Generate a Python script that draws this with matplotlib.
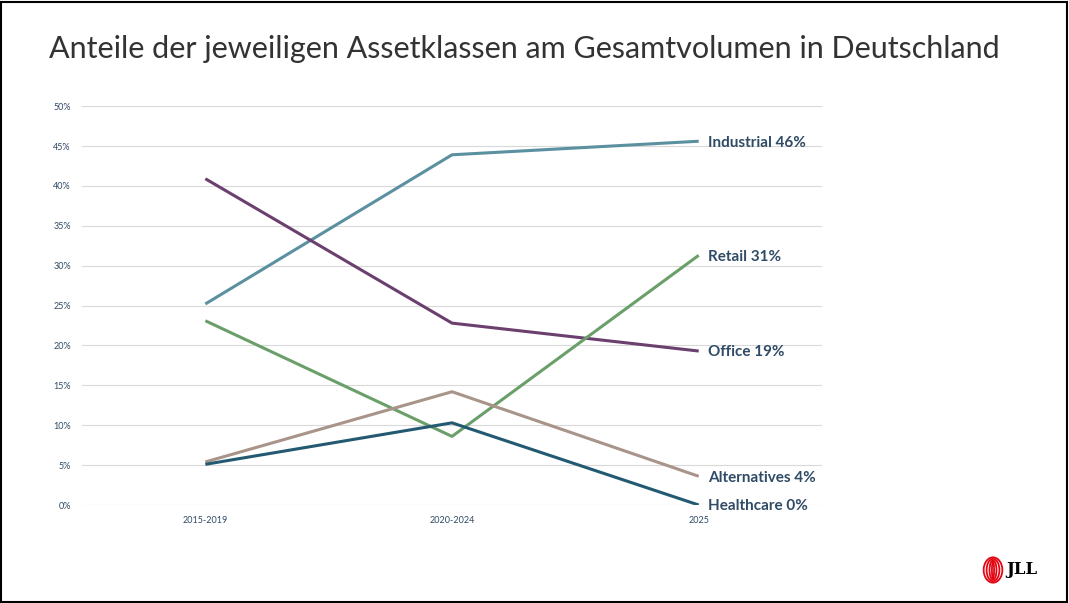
import matplotlib.pyplot as plt
from matplotlib.patches import Ellipse, Rectangle
from matplotlib.ticker import PercentFormatter

periods = ["2015-2019", "2020-2024", "2025"]
series = ["Industrial", "Office", "Retail", "Alternatives", "Healthcare"]
industrial = [25.2, 43.9, 45.6]
office = [40.9, 22.8, 19.3]
retail = [23.1, 8.6, 31.3]
alternatives = [5.4, 14.2, 3.6]
healthcare = [5.1, 10.3, 0.0]
end_pct = ["46%", "19%", "31%", "4%", "0%"]

colors = ["#5B90A0", "#6B3F6E", "#6A9F6A", "#A89489", "#235A72"]
text_col = "#2F4B66"

plt.rcParams['font.family'] = ['Lato', 'DejaVu Sans']

fig = plt.figure(figsize=(10.69, 6.03), dpi=100)
ax = fig.add_axes([0.0767, 0.1625, 0.6923, 0.6615])

data = [industrial, office, retail, alternatives, healthcare]
x = list(range(len(periods)))
for vals, col in zip(data, colors):
    ax.plot(x, vals, color=col, lw=2.2, solid_capstyle='butt', zorder=3)

# labels at the end of each line
for name, vals, p in zip(series, data, end_pct):
    ax.annotate(f"{name} {p}", xy=(x[-1], vals[-1]), xytext=(7, -1),
                textcoords='offset points', va='center', ha='left',
                fontsize=11, fontweight='bold', color=text_col,
                annotation_clip=False)

ax.set_xlim(-0.5, 2.5)
ax.set_ylim(0, 50)
ax.set_yticks(range(0, 51, 5))
ax.yaxis.set_major_formatter(PercentFormatter(decimals=0))
ax.set_xticks(x)
ax.set_xticklabels(periods)
ax.tick_params(length=0, labelsize=6.5, labelcolor=text_col)
ax.tick_params(axis='y', pad=8)
ax.tick_params(axis='x', pad=8)
ax.grid(axis='y', color='#D9D9D9', lw=0.8, zorder=0)
for s in ax.spines.values():
    s.set_visible(False)

fig.text(0.046, 0.918, "Anteile der jeweiligen Assetklassen am Gesamtvolumen in Deutschland",
         fontsize=22, fontweight='normal', color='#333333', va='center', ha='left')

# frame around the slide
fig.patches.append(Rectangle((0.001, 0.002), 0.997, 0.995, transform=fig.transFigure,
                             fill=False, edgecolor='black', lw=1.5))

# JLL logo
cx, cy = 993 / 1069, 1 - 570 / 603
for w, h in [(0.0175, 0.042), (0.012, 0.037), (0.0065, 0.032), (0.002, 0.028)]:
    fig.patches.append(Ellipse((cx, cy), w, h, transform=fig.transFigure,
                               fill=False, edgecolor='#E30613', lw=1.3))
fig.text(0.9415, cy, "JLL", fontsize=12, fontweight='bold', family='DejaVu Serif',
         color='black', va='center', ha='left')

fig.savefig("out.png", dpi=100)
